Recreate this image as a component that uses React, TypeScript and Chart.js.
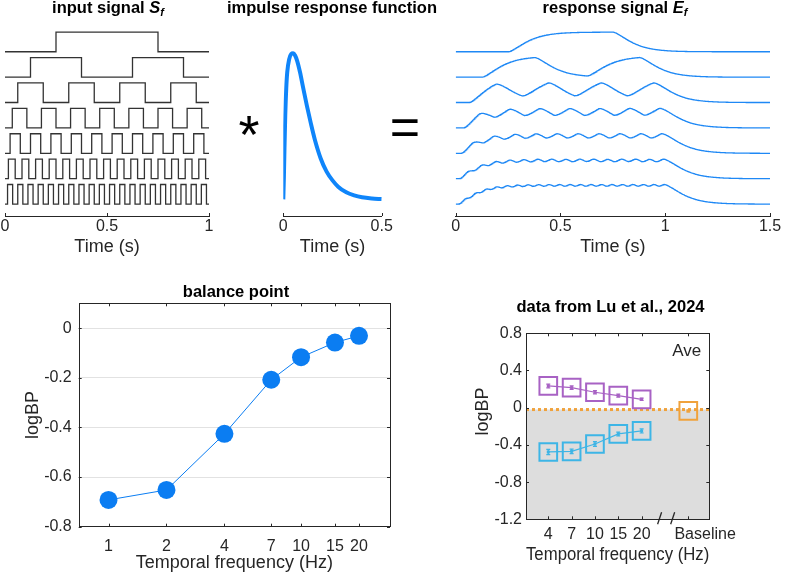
import React, { useEffect, useRef } from 'react';
import { Chart, registerables } from 'chart.js';

Chart.register(...registerables);

// ---------------- data ----------------
// top row: stimulus frequencies (one row each), stimulus duration, impulse response
const FREQS = [1, 2, 4, 7, 10, 15, 20];
const INPUT_END = 1;
const INPUT_TICKS = [0, 0.5, 1];
const IRF_T = [0, 0.003, 0.006, 0.01, 0.015, 0.02, 0.03, 0.04, 0.05, 0.06, 0.07, 0.085, 0.1, 0.12, 0.14, 0.16, 0.19, 0.22, 0.25, 0.28, 0.32, 0.36, 0.4, 0.45, 0.5];
const IRF_V = [0, 0.15, 0.35, 0.58, 0.76, 0.87, 0.96, 0.995, 1, 0.985, 0.95, 0.87, 0.77, 0.64, 0.52, 0.41, 0.28, 0.19, 0.13, 0.085, 0.048, 0.027, 0.014, 0.006, 0.002];
const IRF_TICKS = [0, 0.5];
const RESP_END = 1.5;
const RESP_TICKS = [0, 0.5, 1, 1.5];

// balance point
const BP_FREQS = [1, 2, 4, 7, 10, 15, 20];
const BP_VALUES = [-0.692, -0.652, -0.426, -0.208, -0.117, -0.058, -0.031];
const BP_YTICKS = [0, -0.2, -0.4, -0.6, -0.8];

// data from Lu et al., 2024
const LU_LABELS = ['4', '7', '10', '15', '20'];
const LU_HIGH = [0.234, 0.216, 0.166, 0.13, 0.09];
const LU_HIGH_ERR = [0.02, 0.018, 0.018, 0.016, 0.012];
const LU_LOW = [-0.476, -0.469, -0.39, -0.282, -0.25];
const LU_LOW_ERR = [0.028, 0.024, 0.026, 0.02, 0.022];
const LU_BASELINE = -0.035;
const LU_BASELINE_ERR = 0.01;
const LU_BASELINE_LEVEL = -0.02;
const LU_YTICKS = [0.8, 0.4, 0, -0.4, -0.8, -1.2];

// ---------------- styles / layout ----------------
const FONT = 'Liberation Sans, Arial, Helvetica, sans-serif';
const AXIS = '#262626';
const BLUE = '#0B7DF2';
const IRF_BLUE = '#0F85FA';
const RESP_BLUE = '#1E88F5';
const PURPLE = '#A862C4';
const CYAN = '#3DB5E6';
const ORANGE = '#F0A23C';
const ROW_AMP = 0.77;
const TOP_Y = { min: -6.47, max: 1.25 };
const LU_SLOT_BASE = 6;
const LU_X_MIN = -0.955;
const LU_X_MAX = 6.9;
const LU_BASE_LABEL_AT = 6.72;
const LU_BREAKS = [4.77, 5.33];

// ---------------- helpers ----------------
function squareWave(f: number) {
  const pts: { x: number; y: number }[] = [{ x: 0, y: 0 }];
  let level = 0;
  for (let k = 0; ; k++) {
    const t = (2 * k + 1) / (4 * f);
    if (t >= INPUT_END - 1e-9) break;
    pts.push({ x: t, y: level });
    level = 1 - level;
    pts.push({ x: t, y: level });
  }
  pts.push({ x: INPUT_END, y: level });
  return pts;
}

function irfAt(t: number) {
  for (let i = 1; i < IRF_T.length; i++) {
    if (t <= IRF_T[i]) {
      const a = (t - IRF_T[i - 1]) / (IRF_T[i] - IRF_T[i - 1]);
      return IRF_V[i - 1] + a * (IRF_V[i] - IRF_V[i - 1]);
    }
  }
  return 0;
}

function inputLevel(f: number, t: number) {
  if (t < 0 || t >= INPUT_END) return 0;
  const ph = (t * f) % 1;
  return ph >= 0.25 - 1e-9 && ph < 0.75 - 1e-9 ? 1 : 0;
}

function response(f: number) {
  const dt = 0.001;
  const kernel: number[] = [];
  for (let k = 0; k * dt <= IRF_T[IRF_T.length - 1] + 1e-12; k++) kernel.push(irfAt(k * dt));
  const n = Math.round(RESP_END / dt);
  const inp: number[] = [];
  for (let i = 0; i <= n; i++) inp.push(inputLevel(f, i * dt));
  const out: number[] = [];
  for (let i = 0; i <= n; i++) {
    let s = 0;
    for (let k = 0; k < kernel.length && k <= i; k++) s += inp[i - k] * kernel[k];
    out.push(s);
  }
  const mx = Math.max(...out);
  const pts: { x: number; y: number }[] = [];
  for (let i = 0; i <= n; i += 2) pts.push({ x: i * dt, y: out[i] / mx });
  return pts;
}

const fmtNum = (v: number) => (Math.abs(v) < 1e-9 ? '0' : String(Math.round(v * 10) / 10));

// ---------------- plugins ----------------
const textPlugin = {
  id: 'texts',
  afterDraw(chart: any, _a: any, opts: any) {
    const ctx = chart.ctx;
    for (const it of opts.items || []) {
      ctx.save();
      ctx.fillStyle = it.color || '#000';
      ctx.textBaseline = it.baseline || 'alphabetic';
      ctx.translate(it.x, it.y);
      if (it.rotate) ctx.rotate(it.rotate);
      const parts = it.parts || [{ text: it.text, font: it.font }];
      let total = 0;
      const widths = parts.map((p: any) => {
        ctx.font = p.font;
        const w = ctx.measureText(p.text).width;
        total += w;
        return w;
      });
      let x = it.align === 'left' ? 0 : it.align === 'right' ? -total : -total / 2;
      ctx.textAlign = 'left';
      parts.forEach((p: any, i: number) => {
        ctx.font = p.font;
        ctx.fillText(p.text, x, p.dy || 0);
        x += widths[i];
      });
      ctx.restore();
    }
  },
};

const framePlugin = {
  id: 'frame',
  afterDatasetsDraw(chart: any, _a: any, o: any) {
    const { ctx, chartArea: a, scales } = chart;
    ctx.save();
    ctx.strokeStyle = AXIS;
    ctx.lineWidth = 1;
    const L = o.len ?? 3;
    const seg = (x1: number, y1: number, x2: number, y2: number) => {
      ctx.beginPath();
      ctx.moveTo(x1, y1);
      ctx.lineTo(x2, y2);
      ctx.stroke();
    };
    if (o.box) {
      ctx.strokeRect(Math.round(a.left) + 0.5, Math.round(a.top) + 0.5, Math.round(a.right - a.left), Math.round(a.bottom - a.top));
    }
    for (const v of o.xTicks || []) {
      const p = Math.round(scales.x.getPixelForValue(v)) + 0.5;
      seg(p, a.bottom, p, a.bottom - L);
      if (o.mirror) seg(p, a.top, p, a.top + L);
    }
    for (const v of o.yTicks || []) {
      const p = Math.round(scales.y.getPixelForValue(v)) + 0.5;
      seg(a.left, p, a.left + L, p);
      if (o.mirror) seg(a.right, p, a.right - L, p);
    }
    ctx.lineWidth = 1.3;
    for (const v of o.breaks || []) {
      const p = scales.x.getPixelForValue(v);
      seg(p - 2, a.bottom + 5, p + 2, a.bottom - 7);
    }
    ctx.restore();
  },
};

const errorBarPlugin = {
  id: 'errorBars',
  afterDatasetsDraw(chart: any) {
    const { ctx, scales } = chart;
    chart.data.datasets.forEach((ds: any) => {
      if (!ds.errors) return;
      ctx.save();
      ctx.strokeStyle = ds.pointBorderColor;
      ctx.fillStyle = ds.pointBorderColor;
      ctx.lineWidth = 1.2;
      ds.data.forEach((p: any, i: number) => {
        const px = scales.x.getPixelForValue(p.x);
        const y1 = scales.y.getPixelForValue(p.y - ds.errors[i]);
        const y2 = scales.y.getPixelForValue(p.y + ds.errors[i]);
        ctx.beginPath();
        ctx.moveTo(px, y1); ctx.lineTo(px, y2);
        ctx.moveTo(px - 2, y1); ctx.lineTo(px + 2, y1);
        ctx.moveTo(px - 2, y2); ctx.lineTo(px + 2, y2);
        ctx.stroke();
        ctx.fillRect(px - 1.5, scales.y.getPixelForValue(p.y) - 1.5, 3, 3);
      });
      ctx.restore();
    });
  },
};

// ---------------- configs ----------------
const base = (padding: any) => ({
  animation: false,
  responsive: false,
  maintainAspectRatio: false,
  devicePixelRatio: 1,
  events: [],
  layout: { padding, autoPadding: false },
});

const tickFont = { family: FONT, size: 16 };
const titleFont = { family: FONT, size: 18 };

const topX = (ticks: number[], max: number) => ({
  type: 'linear',
  min: 0,
  max,
  afterBuildTicks: (s: any) => { s.ticks = ticks.map((v) => ({ value: v })); },
  afterFit: (s: any) => { s.height = 44; s.paddingLeft = 0; s.paddingRight = 0; },
  ticks: { font: tickFont, color: AXIS, padding: 1, maxRotation: 0, autoSkip: false, callback: (v: number) => String(v) },
  grid: { display: false, drawTicks: false },
  border: { display: true, color: AXIS, width: 1 },
  title: { display: true, text: 'Time (s)', font: titleFont, color: AXIS, padding: { top: 0, bottom: 2 } },
});
const topY = { type: 'linear', display: false, min: TOP_Y.min, max: TOP_Y.max };

const titleParts = (main: string, sym: string) => [
  { text: main, font: `bold 16.5px ${FONT}` },
  { text: sym, font: `italic bold 16.5px ${FONT}` },
  { text: 'f', font: `italic bold 11px ${FONT}`, dy: 3.5 },
];

function inputConfig(): any {
  return {
    type: 'line',
    data: {
      datasets: FREQS.map((f, i) => ({
        data: squareWave(f).map((p) => ({ x: p.x, y: -i + ROW_AMP * p.y })),
        borderColor: '#333333', borderWidth: 1.3, pointRadius: 0, tension: 0, fill: false,
      })),
    },
    options: {
      ...base({ left: 5, right: 6, top: 20, bottom: 0 }),
      scales: { x: topX(INPUT_TICKS, INPUT_END), y: topY },
      plugins: {
        legend: { display: false }, tooltip: { enabled: false },
        frame: { xTicks: INPUT_TICKS },
        texts: { items: [{ x: 108, y: 12.5, parts: titleParts('input signal ', 'S') }] },
      },
    },
    plugins: [framePlugin, textPlugin],
  };
}

function irfConfig(): any {
  return {
    type: 'line',
    data: {
      datasets: [{
        data: IRF_T.map((t, i) => ({ x: t, y: IRF_V[i] })),
        borderColor: IRF_BLUE, borderWidth: 4, pointRadius: 0, cubicInterpolationMode: 'monotone', fill: false,
      }],
    },
    options: {
      ...base({ left: 68.3, right: 58.3, top: 20, bottom: 0 }),
      scales: { x: topX(IRF_TICKS, 0.5), y: { type: 'linear', display: false, min: -0.114, max: 1.228 } },
      plugins: {
        legend: { display: false }, tooltip: { enabled: false },
        frame: { xTicks: IRF_TICKS },
        texts: {
          items: [
            { x: 117, y: 12.5, text: 'impulse response function', font: `bold 16.5px ${FONT}` },
            { x: 34, y: 153, text: '*', font: `54px ${FONT}` },
            { x: 190, y: 145, text: '=', font: `52px ${FONT}` },
          ],
        },
      },
    },
    plugins: [framePlugin, textPlugin],
  };
}

function responseConfig(): any {
  return {
    type: 'line',
    data: {
      datasets: FREQS.map((f, i) => ({
        data: response(f).map((p) => ({ x: p.x, y: -i + ROW_AMP * p.y })),
        borderColor: RESP_BLUE, borderWidth: 1.3, pointRadius: 0, tension: 0, fill: false,
      })),
    },
    options: {
      ...base({ left: 15.7, right: 17, top: 20, bottom: 0 }),
      scales: { x: topX(RESP_TICKS, RESP_END), y: topY },
      plugins: {
        legend: { display: false }, tooltip: { enabled: false },
        frame: { xTicks: RESP_TICKS },
        texts: { items: [{ x: 175, y: 12.5, parts: titleParts('response signal ', 'E') }] },
      },
    },
    plugins: [framePlugin, textPlugin],
  };
}

function balanceConfig(): any {
  return {
    type: 'line',
    data: {
      datasets: [{
        data: BP_FREQS.map((f, i) => ({ x: f, y: BP_VALUES[i] })),
        borderColor: BLUE, borderWidth: 1, pointRadius: 9, pointBackgroundColor: BLUE, pointBorderWidth: 0, fill: false,
      }],
    },
    options: {
      ...base({ left: 0, right: 30, top: 33.3, bottom: 0 }),
      scales: {
        x: {
          type: 'logarithmic', min: 0.702, max: 28.97,
          afterBuildTicks: (s: any) => { s.ticks = BP_FREQS.map((v) => ({ value: v })); },
          afterFit: (s: any) => { s.height = 54.3; s.paddingLeft = 0; s.paddingRight = 0; },
          ticks: { font: tickFont, color: AXIS, padding: 10.4, maxRotation: 0, autoSkip: false, callback: (v: number) => String(v) },
          grid: { display: false, drawTicks: false },
          border: { display: false },
          title: { display: true, text: 'Temporal frequency (Hz)', font: titleFont, color: AXIS, padding: { top: 0, bottom: 6.7 } },
        },
        y: {
          type: 'linear', min: -0.8, max: 0.1,
          afterBuildTicks: (s: any) => { s.ticks = BP_YTICKS.map((v) => ({ value: v })); },
          afterFit: (s: any) => { s.width = 78.7; s.paddingTop = 0; s.paddingBottom = 0; },
          ticks: { font: tickFont, color: AXIS, padding: 7, callback: (v: number) => fmtNum(v) },
          grid: { color: '#E2E2E2', drawTicks: false },
          border: { display: false },
          title: { display: true, text: 'logBP', font: titleFont, color: AXIS, padding: { top: 22.5, bottom: 0 } },
        },
      },
      plugins: {
        legend: { display: false }, tooltip: { enabled: false },
        frame: { box: true, mirror: true, xTicks: BP_FREQS, yTicks: BP_YTICKS },
        texts: { items: [{ x: 236, y: 26.8, text: 'balance point', font: `bold 16.5px ${FONT}` }] },
      },
    },
    plugins: [framePlugin, textPlugin],
  };
}

function luConfig(): any {
  const band = [{ x: LU_X_MIN, y: LU_BASELINE_LEVEL }, { x: LU_X_MAX, y: LU_BASELINE_LEVEL }];
  const series = (vals: number[], errs: number[], color: string, order: number) => ({
    data: vals.map((v, i) => ({ x: i, y: v })),
    errors: errs,
    borderColor: color, borderWidth: 1.2,
    pointStyle: 'rect', pointRadius: 12.5, pointBorderWidth: 2,
    pointBorderColor: color, pointBackgroundColor: 'rgba(0,0,0,0)', fill: false, order,
  });
  const xLabels = [...LU_LABELS, 'Baseline'];
  return {
    type: 'line',
    data: {
      datasets: [
        { data: band, borderColor: 'rgba(0,0,0,0)', borderWidth: 1, pointRadius: 0, fill: 'start', backgroundColor: '#DDDDDD', order: 10 },
        { data: band, borderColor: ORANGE, borderWidth: 3, borderDash: [3, 3], pointRadius: 0, fill: false, order: 9 },
        series(LU_HIGH, LU_HIGH_ERR, PURPLE, 3),
        series(LU_LOW, LU_LOW_ERR, CYAN, 2),
        { ...series([LU_BASELINE], [LU_BASELINE_ERR], ORANGE, 1), data: [{ x: LU_SLOT_BASE, y: LU_BASELINE }], showLine: false },
      ],
    },
    options: {
      ...base({ left: 0, right: 77.7, top: 53.3, bottom: 0 }),
      scales: {
        x: {
          type: 'linear', min: LU_X_MIN, max: LU_X_MAX,
          afterBuildTicks: (s: any) => { s.ticks = [...LU_LABELS.map((_, i) => ({ value: i })), { value: LU_BASE_LABEL_AT }]; },
          afterFit: (s: any) => { s.height = 61.7; s.paddingLeft = 0; s.paddingRight = 0; },
          ticks: { font: tickFont, color: AXIS, padding: 6, maxRotation: 0, autoSkip: false, callback: (_v: number, i: number) => xLabels[i] },
          grid: { display: false, drawTicks: false },
          border: { display: false },
          title: { display: true, text: 'Temporal frequency (Hz)', font: titleFont, color: AXIS, padding: { top: 0, bottom: 15.2 } },
        },
        y: {
          type: 'linear', min: -1.2, max: 0.8,
          afterBuildTicks: (s: any) => { s.ticks = LU_YTICKS.map((v) => ({ value: v })); },
          afterFit: (s: any) => { s.width = 86; s.paddingTop = 0; s.paddingBottom = 0; },
          ticks: { font: tickFont, color: AXIS, padding: 4, callback: (v: number) => fmtNum(v) },
          grid: { display: false, drawTicks: false },
          border: { display: false },
        },
      },
      plugins: {
        legend: { display: false }, tooltip: { enabled: false },
        frame: { box: true, mirror: true, xTicks: [...LU_LABELS.map((_, i) => i), LU_SLOT_BASE], yTicks: LU_YTICKS, breaks: LU_BREAKS },
        texts: {
          items: [
            { x: 170.5, y: 31.8, text: 'data from Lu et al., 2024', font: `bold 16.5px ${FONT}` },
            { x: 232.3, y: 76, text: 'Ave', font: `17px ${FONT}`, align: 'left', color: AXIS },
            { x: 43, y: 131.5, text: 'logBP', font: `18px ${FONT}`, color: AXIS, rotate: -Math.PI / 2, baseline: 'middle' },
          ],
        },
      },
    },
    plugins: [framePlugin, textPlugin, errorBarPlugin],
  };
}

// ---------------- components ----------------
function ChartBox({ left, top, width, height, make }: { left: number; top: number; width: number; height: number; make: () => any }) {
  const ref = useRef<HTMLCanvasElement>(null);
  useEffect(() => {
    const chart = new Chart(ref.current as HTMLCanvasElement, make());
    return () => chart.destroy();
  }, []);
  return (
    <canvas
      ref={ref}
      width={width}
      height={height}
      style={{ position: 'absolute', left, top, width, height, display: 'block' }}
    />
  );
}

export default function App() {
  return (
    <div style={{ position: 'absolute', left: 0, top: 0, width: 787, height: 581, background: '#ffffff', overflow: 'hidden' }}>
      <ChartBox left={0} top={0} width={215} height={260} make={inputConfig} />
      <ChartBox left={215} top={0} width={225} height={260} make={irfConfig} />
      <ChartBox left={440} top={0} width={347} height={260} make={responseConfig} />
      <ChartBox left={0} top={270} width={420} height={311} make={balanceConfig} />
      <ChartBox left={440} top={280} width={347} height={301} make={luConfig} />
    </div>
  );
}
